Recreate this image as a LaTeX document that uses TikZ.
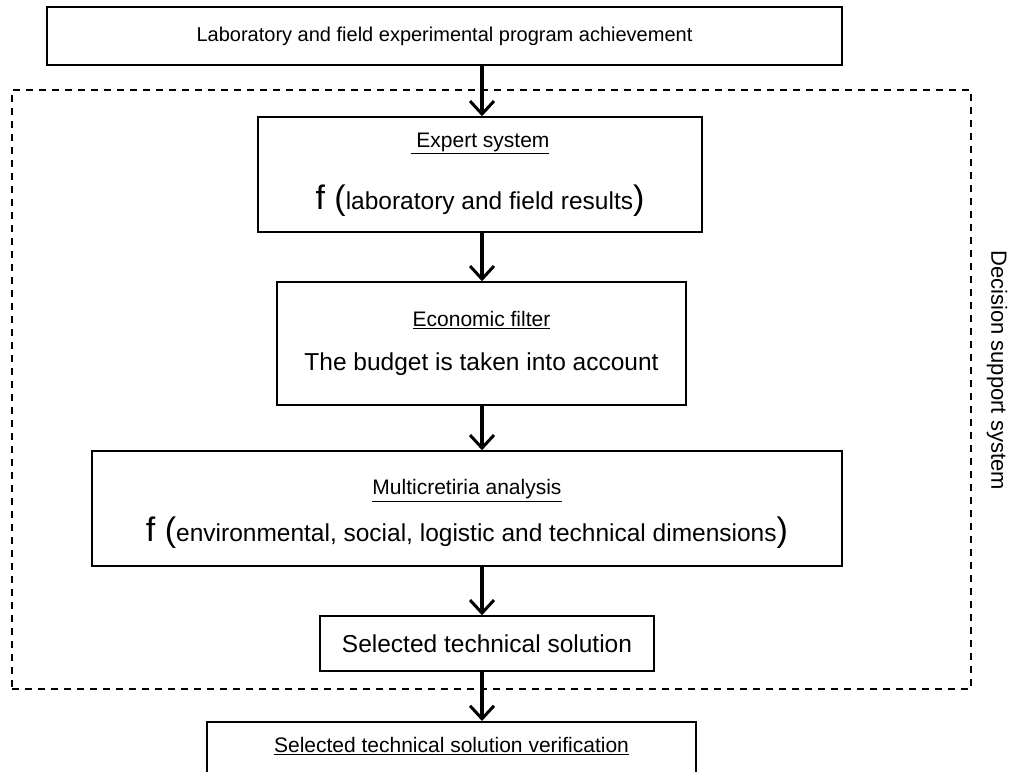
\documentclass[tikz,border=0pt]{standalone}
\usepackage{fontspec}
\setmainfont{Liberation Sans}
\usetikzlibrary{arrows.meta}

\newcommand{\grande}[1]{{\fontsize{34}{36}\selectfont #1}}
\newcommand{\cuerpo}[1]{{\fontsize{24.5}{25}\selectfont #1}}

\begin{document}
\begin{tikzpicture}[x=1pt, y=-1pt,
			caja/.style={draw, line width=1.5pt, inner sep=0pt, align=center, font=\fontsize{21}{25}\selectfont},
			flecha/.style={line width=3.5pt, -{Straight Barb[length=13pt, width=24pt, line width=3pt]}},
			marco/.style={draw, line width=1.5pt, dash pattern=on 7pt off 6pt, inner sep=0pt}
		]
	\useasboundingbox (0,0) rectangle (1019,771);
	\clip (0,0) rectangle (1019,771);

	%Marco del sistema de apoyo
		\node[marco, minimum width=959, minimum height=599] (dss) at (491.5,389.5) {};
		\node[rotate=-90, font=\fontsize{22}{25}\selectfont] (dsstxt) at (997,370) {Decision support system};

	%Creamos las cajas
		\node[caja, minimum width=795, minimum height=58, font=\fontsize{20}{24}\selectfont] (lab) at (444.5,36) {Laboratory and field experimental program achievement};
		\node[caja, minimum width=444, minimum height=115] (expert) at (480,174.5) {\underline{\ Expert system}\\[30pt]\grande{f (}\cuerpo{laboratory and field results}\grande{)}};
		\node[caja, minimum width=409, minimum height=123] (econ) at (481.5,343.5) {\underline{Economic filter}\\[19pt]\cuerpo{The budget is taken into account}};
		\node[caja, minimum width=750, minimum height=115] (multi) at (467,508.5) {\rule{0pt}{27pt}\underline{Multicretiria analysis}\\[15pt]\grande{f (}\cuerpo{environmental, social, logistic and technical dimensions}\grande{)}};
		\node[caja, minimum width=334, minimum height=55] (sel) at (487,643.5) {\cuerpo{Selected technical solution}};
		\node[caja, minimum width=489, text height=31pt, text depth=75pt, anchor=north] (verif) at (451.5,721) {\underline{Selected technical solution verification}};

	%Flechas entre las cajas
		\coordinate (eje) at (482,0);
		\draw[flecha] (lab.south -| eje) -- (expert.north -| eje);
		\draw[flecha] (expert.south -| eje) -- (econ.north -| eje);
		\draw[flecha] (econ.south -| eje) -- (multi.north -| eje);
		\draw[flecha] (multi.south -| eje) -- (sel.north -| eje);
		\draw[flecha] (sel.south -| eje) -- (verif.north -| eje);
\end{tikzpicture}
\end{document}
